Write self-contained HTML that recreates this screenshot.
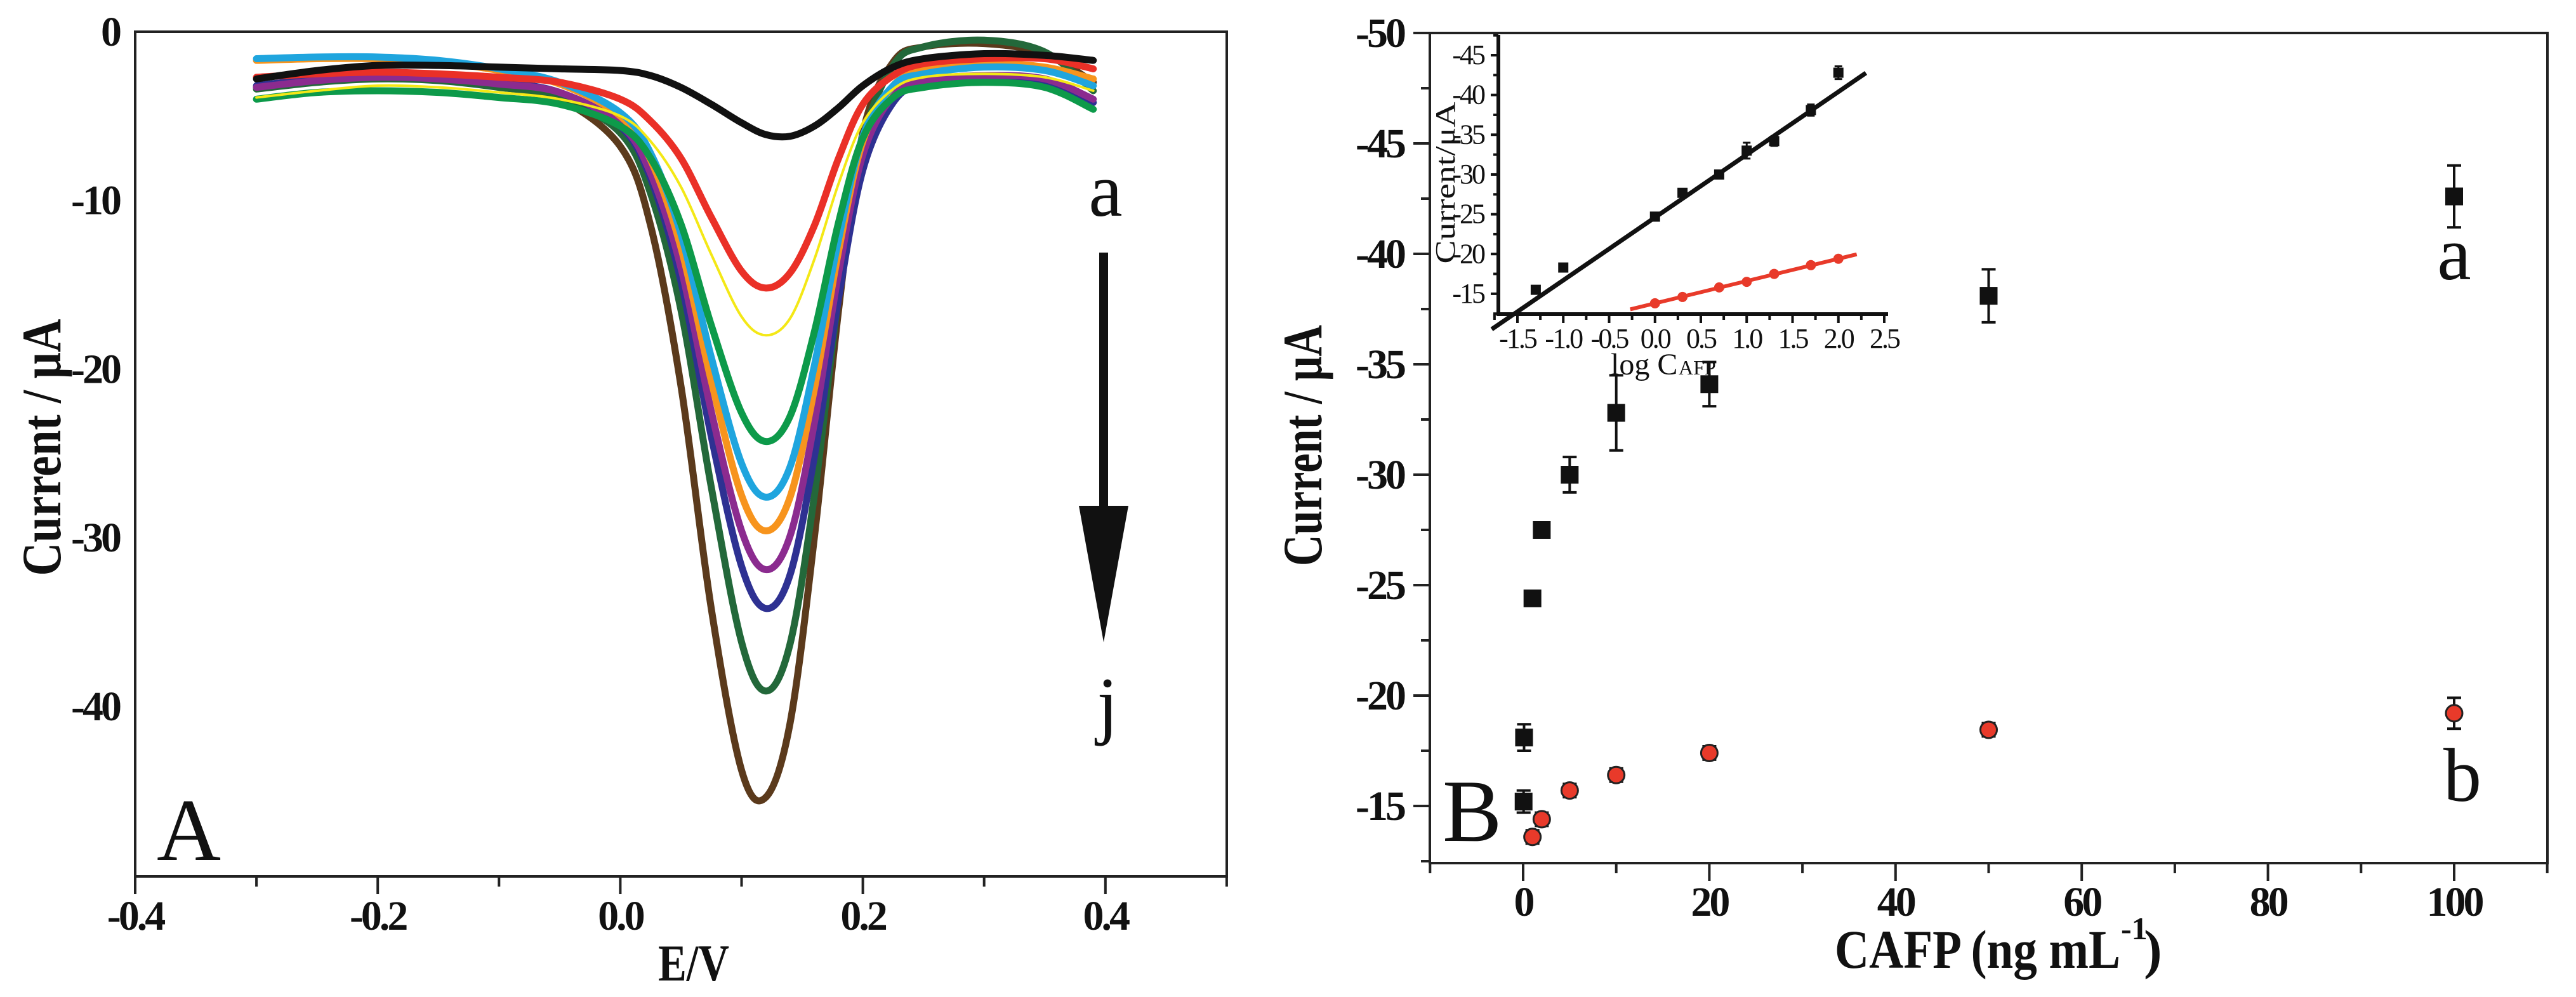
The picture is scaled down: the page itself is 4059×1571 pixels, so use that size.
<!DOCTYPE html>
<html><head><meta charset="utf-8"><style>
html,body{margin:0;padding:0;background:#fff;}
svg{display:block;}
text{font-family:"Liberation Serif",serif;fill:#111;}
.tk{font-weight:bold;font-size:66px;letter-spacing:-4px;}
.it{font-size:44px;letter-spacing:-3px;}
</style></head><body>
<svg id="fig" width="4059" height="1571" viewBox="0 0 4059 1571" xmlns="http://www.w3.org/2000/svg">
<g id="pa"></g>
<g id="pb"></g>
<g id="pi"></g>
</svg>
<script>
// ---------- Panel A data ----------
const potentials = [-0.3,-0.25,-0.2,-0.15,-0.1,-0.05,0,0.025,0.05,0.075,0.1,0.12,0.14,0.16,0.18,0.2,0.225,0.25,0.3,0.35,0.39];
const curveBlack = [-2.8,-2.3,-2.0,-2.0,-2.1,-2.2,-2.3,-2.6,-3.3,-4.3,-5.4,-6.1,-6.2,-5.6,-4.5,-3.2,-2.1,-1.6,-1.3,-1.4,-1.7];
const curveRed = [-2.7,-2.5,-2.4,-2.5,-2.7,-3.0,-4.0,-5.3,-7.5,-11.0,-14.2,-15.2,-14.3,-11.5,-7.5,-4.3,-2.6,-1.9,-1.6,-1.6,-2.2];
const curveYellow = [-3.9,-3.5,-3.2,-3.3,-3.6,-4.0,-5.0,-6.5,-9.2,-13.2,-16.9,-18.0,-17.0,-13.5,-9.0,-5.4,-3.4,-2.7,-2.5,-2.7,-3.5];
const curveGreen = [-4.0,-3.6,-3.5,-3.6,-3.9,-4.3,-5.6,-7.5,-11.4,-17.4,-22.6,-24.3,-22.8,-17.8,-11.3,-6.3,-3.9,-3.3,-3.0,-3.3,-4.6];
const curveCyan = [-1.6,-1.5,-1.5,-1.7,-2.2,-3.0,-4.8,-7.2,-12.0,-19.3,-25.6,-27.6,-25.8,-19.8,-12.3,-6.2,-3.2,-2.5,-2.1,-2.3,-3.2];
const curveOrange = [-1.7,-1.6,-1.6,-1.8,-2.3,-3.1,-5.0,-7.6,-12.8,-20.7,-27.5,-29.6,-27.6,-21.2,-13.0,-6.5,-3.2,-2.3,-1.9,-2.1,-2.8];
const curvePurple = [-3.3,-2.9,-2.7,-2.8,-3.1,-3.6,-5.5,-8.4,-14.0,-22.5,-29.6,-31.9,-29.9,-23.2,-14.3,-7.3,-3.8,-2.9,-2.6,-2.8,-4.0];
const curveNavy = [-3.2,-2.8,-2.6,-2.7,-3.0,-3.6,-5.6,-8.7,-14.8,-24.0,-31.7,-34.2,-32.2,-25.2,-15.8,-8.2,-4.2,-3.1,-2.8,-3.0,-4.2];
const curveDarkGreen = [-3.4,-3.0,-2.8,-2.9,-3.3,-3.9,-6.0,-9.6,-16.5,-27.0,-36.2,-39.1,-36.3,-27.5,-15.7,-6.5,-2.0,-0.9,-0.5,-1.2,-3.5];
const curveBrown = [-3.3,-2.9,-2.7,-2.8,-3.2,-4.0,-6.8,-11.5,-21.0,-34.2,-43.8,-45.4,-41.0,-30.0,-16.5,-6.0,-1.8,-0.9,-0.7,-1.3,-3.0];
const aXTicks = ["-0.4","-0.2","0.0","0.2","0.4"];
const aXTickVals = [-0.4,-0.2,0,0.2,0.4];
const aYTickVals = [0,-10,-20,-30,-40];
const aYTicks = ["0","-10","-20","-30","-40"];

// ---------- Panel B data ----------
const concA = [0.05,0.1,1,2,5,10,20,50,100];
const currentA = [-15.2,-18.1,-24.4,-27.5,-30.0,-32.8,-34.1,-38.1,-42.6];
const errA = [0.5,0.6,0.2,0.2,0.8,1.7,1.0,1.2,1.4];
const concB = [1,2,5,10,20,50,100];
const currentB = [-13.6,-14.4,-15.7,-16.4,-17.4,-18.45,-19.2];
const errB = [0.3,0.3,0.3,0.3,0.3,0.3,0.7];
const bXTickVals = [0,20,40,60,80,100];
const bYTickVals = [-50,-45,-40,-35,-30,-25,-20,-15];

// ---------- Inset data ----------
const logA = [-1.3,-1,0,0.3,0.7,1,1.3,1.7,2];
const insetA = [-15.5,-18.3,-24.7,-27.7,-30.0,-33.0,-34.2,-38.1,-42.8];
const insetErrA = [0.3,0.4,0.3,0.3,0.5,1.0,0.6,0.7,0.8];
const logB = [0,0.3,0.7,1,1.3,1.7,2];
const insetB = [-13.8,-14.6,-15.8,-16.5,-17.5,-18.6,-19.4];
const fitA = [-24.6,-7.9]; // intercept, slope
const fitB = [-13.8,-2.8];
const fitARange = [-1.78,2.3];
const fitBRange = [-0.27,2.2];
const iXTickVals = [-1.5,-1.0,-0.5,0.0,0.5,1.0,1.5,2.0,2.5];
const iYTickVals = [-15,-20,-25,-30,-35,-40,-45];

const NS="http://www.w3.org/2000/svg";
function mk(parent,tag,attrs){const e=document.createElementNS(NS,tag);for(const k in attrs)e.setAttribute(k,attrs[k]);parent.appendChild(e);return e;}
function txt(parent,x,y,s,attrs){const e=mk(parent,'text',Object.assign({x:x,y:y},attrs||{}));e.textContent=s;return e;}

// axis functions
const axL=213, axR=1933, axT=50, axB=1381;
const ax = v => axL + (v+0.4)*1911;
const ay = v => axT + (0-v)*26.57;
const bxL=2253, bxR=4014, bxT=52, bxB=1360;
const bx = v => 2400 + v*14.67;
const by = v => 52 + (v+50)*34.8;
const ixL=2361, ixB=495, ixR=2975, ixT=55;
const ix = v => 2391 + (v+1.5)*144.5;
const iy = v => 87 + (v+45)*12.53;

function smooth(xs,ys){
  let d=`M${xs[0]},${ys[0]}`;
  for(let i=0;i<xs.length-1;i++){
    const x0=xs[Math.max(i-1,0)],y0=ys[Math.max(i-1,0)],x1=xs[i],y1=ys[i],x2=xs[i+1],y2=ys[i+1],x3=xs[Math.min(i+2,xs.length-1)],y3=ys[Math.min(i+2,xs.length-1)];
    d+=` C${x1+(x2-x0)/6},${y1+(y2-y0)/6} ${x2-(x3-x1)/6},${y2-(y3-y1)/6} ${x2},${y2}`;
  }
  return d;
}

// ---- Panel A ----
const pa=document.getElementById('pa');
const frameA=mk(pa,'rect',{x:axL,y:axT,width:axR-axL,height:axB-axT,fill:'none',stroke:'#222','stroke-width':4});


for(let v=-0.4;v<=0.501;v+=0.1){
  const major=Math.abs(Math.round(v*10)%2)===0;
  const t=mk(pa,'line',{x1:ax(v),x2:ax(v),y1:axB,y2:axB+(major?28:16),stroke:'#222','stroke-width':4});
  
  
}
aXTickVals.forEach((v,i)=>{
  const t=txt(pa,ax(v),1465,aXTicks[i],{class:'tk','text-anchor':'middle'});
  
  
});
aYTickVals.forEach((v,i)=>{
  const t=txt(pa,188,ay(v)+22,aYTicks[i],{class:'tk','text-anchor':'end'});
  
  
});
const series=[
 [curveBrown,'#5b3a1c',11],[curveDarkGreen,'#23683a',11],[curveNavy,'#2e3192',11],[curvePurple,'#8b2b8f',11],
 [curveOrange,'#f7941d',11],[curveCyan,'#1fa5de',11],[curveGreen,'#0d9a4a',11],[curveYellow,'#f4e816',4],
 [curveRed,'#ea3027',11],[curveBlack,'#111111',11]];
const xsA=potentials.map(ax);
series.forEach(s=>{
  const p=mk(pa,'path',{d:smooth(xsA,s[0].map(ay)),fill:'none',stroke:s[1],'stroke-width':s[2],'stroke-linecap':'round'});
  
  
});
let e;
e=txt(pa,0,0,'Current / μA',{'font-weight':'bold','font-size':88,transform:'translate(95,705) rotate(-90)','text-anchor':'middle',textLength:405,lengthAdjust:'spacingAndGlyphs'});

e=txt(pa,1093,1545,'E/V',{'font-weight':'bold','font-size':82,'text-anchor':'middle',textLength:112,lengthAdjust:'spacingAndGlyphs'});

e=txt(pa,247,1355,'A',{'font-size':140});

e=txt(pa,1742,340,'a',{'font-size':120,'text-anchor':'middle'});

e=mk(pa,'line',{x1:1739,x2:1739,y1:398,y2:800,stroke:'#111','stroke-width':14});

e=mk(pa,'polygon',{points:'1700,797 1778,797 1739,1012',fill:'#111'});

e=txt(pa,1745,1150,'j',{'font-size':120,'text-anchor':'middle'});


// ---- Panel B ----
const pb=document.getElementById('pb');
e=mk(pb,'rect',{x:bxL,y:bxT,width:bxR-bxL,height:bxB-bxT,fill:'none',stroke:'#222','stroke-width':4});

for(let v=-10;v<=110;v+=10){
  const major=v%20===0;
  const t=mk(pb,'line',{x1:bx(v),x2:bx(v),y1:bxB,y2:bxB+(major?28:16),stroke:'#222','stroke-width':4});
  
  
}
for(let v=-50;v<=-12.5;v+=2.5){
  const major=v%5===0;
  const t=mk(pb,'line',{x1:bxL,x2:bxL-(major?26:14),y1:by(v),y2:by(v),stroke:'#222','stroke-width':4});
  
  
}
bXTickVals.forEach(v=>{
  const t=txt(pb,bx(v),1443,String(v),{class:'tk','text-anchor':'middle'});
  
  
});
bYTickVals.forEach(v=>{
  const t=txt(pb,2212,by(v)+22,String(v),{class:'tk','text-anchor':'end'});
  
  
});
concA.forEach((c,i)=>{
  const x=bx(c),y=by(currentA[i]),y1=by(currentA[i]-errA[i]),y2=by(currentA[i]+errA[i]);
  const eb=mk(pb,'path',{d:`M${x},${y1}V${y2}M${x-11},${y1}H${x+11}M${x-11},${y2}H${x+11}`,stroke:'#111','stroke-width':4,fill:'none'});
  
  
  const m=mk(pb,'rect',{x:x-14,y:y-14,width:28,height:28,fill:'#111'});
  
  
});
concB.forEach((c,i)=>{
  const x=bx(c),y=by(currentB[i]),y1=by(currentB[i]-errB[i]),y2=by(currentB[i]+errB[i]);
  const eb=mk(pb,'path',{d:`M${x},${y1}V${y2}M${x-11},${y1}H${x+11}M${x-11},${y2}H${x+11}`,stroke:'#111','stroke-width':4,fill:'none'});
  
  
  const m=mk(pb,'circle',{cx:x,cy:y,r:13,fill:'#e83a2a',stroke:'#222','stroke-width':3});
  
  
});
e=txt(pb,0,0,'Current / μA',{'font-weight':'bold','font-size':88,transform:'translate(2082,702) rotate(-90)','text-anchor':'middle',textLength:380,lengthAdjust:'spacingAndGlyphs'});

e=txt(pb,2891,1525,'CAFP (ng mL',{'font-weight':'bold','font-size':86,textLength:450,lengthAdjust:'spacingAndGlyphs'});

e=txt(pb,3342,1480,'-1',{'font-weight':'bold','font-size':50});

e=txt(pb,3378,1525,')',{'font-weight':'bold','font-size':86});

e=txt(pb,2273,1325,'B',{'font-size':140});

e=txt(pb,3867,440,'a',{'font-size':120,'text-anchor':'middle'});

e=txt(pb,3880,1262,'b',{'font-size':120,'text-anchor':'middle'});


// ---- Inset ----
const pi=document.getElementById('pi');
e=mk(pi,'path',{d:`M${ixL},${ixT}V${ixB}H${ixR}`,fill:'none',stroke:'#111','stroke-width':6});

for(let v=-1.75;v<=2.51;v+=0.25){
  const major=Math.abs(v*2-Math.round(v*2))<1e-6;
  const t=mk(pi,'line',{x1:ix(v),x2:ix(v),y1:ixB,y2:ixB+(major?14:9),stroke:'#111','stroke-width':4});
  
  
}
for(let v=-47.5;v<=-12.5;v+=2.5){
  const major=v%5===0;
  const t=mk(pi,'line',{x1:ixL,x2:ixL-(major?12:8),y1:iy(v),y2:iy(v),stroke:'#111','stroke-width':4});
  
  
}
iXTickVals.forEach(v=>{
  const t=txt(pi,ix(v),548,v.toFixed(1),{class:'it','text-anchor':'middle'});
  
  
});
iYTickVals.forEach(v=>{
  const t=txt(pi,2338,iy(v)+14,String(v),{class:'it','text-anchor':'end'});
  
  
});
e=mk(pi,'line',{x1:ix(fitARange[0]),y1:iy(fitA[0]+fitA[1]*fitARange[0]),x2:ix(fitARange[1]),y2:iy(fitA[0]+fitA[1]*fitARange[1]),stroke:'#111','stroke-width':7});

e=mk(pi,'line',{x1:ix(fitBRange[0]),y1:iy(fitB[0]+fitB[1]*fitBRange[0]),x2:ix(fitBRange[1]),y2:iy(fitB[0]+fitB[1]*fitBRange[1]),stroke:'#e83a2a','stroke-width':6});

logA.forEach((c,i)=>{
  const x=ix(c),y=iy(insetA[i]),y1=iy(insetA[i]-insetErrA[i]),y2=iy(insetA[i]+insetErrA[i]);
  const eb=mk(pi,'path',{d:`M${x},${y1}V${y2}M${x-6},${y1}H${x+6}M${x-6},${y2}H${x+6}`,stroke:'#111','stroke-width':3,fill:'none'});
  
  
  const m=mk(pi,'rect',{x:x-8,y:y-8,width:16,height:16,fill:'#111'});
  
  
});
logB.forEach((c,i)=>{
  const m=mk(pi,'circle',{cx:ix(c),cy:iy(insetB[i]),r:8,fill:'#e83a2a'});
  
  
});
e=txt(pi,0,0,'Current/μA',{'font-size':44,transform:'translate(2292,288) rotate(-90)','text-anchor':'middle',textLength:255,lengthAdjust:'spacingAndGlyphs'});

e=txt(pi,2538,590,'log C',{'font-size':48});

e=txt(pi,2645,590,'AFP',{'font-size':32});

</script>
</body></html>
